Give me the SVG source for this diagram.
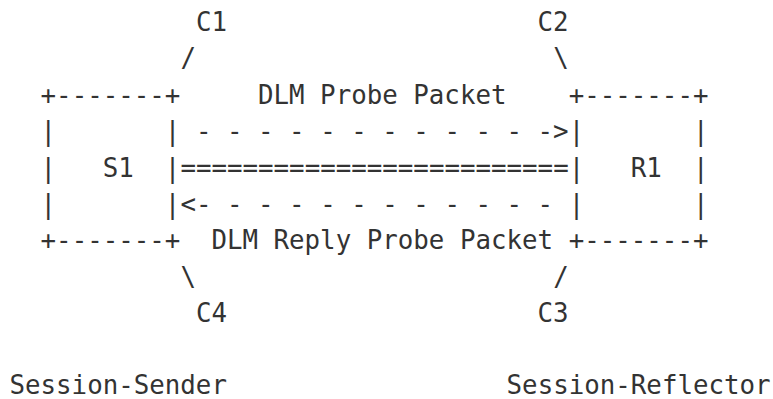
<svg xmlns="http://www.w3.org/2000/svg" width="773" height="399" viewBox="0 0 773 399">
<style>
text{font-family:"DejaVu Sans Mono","Liberation Mono",monospace;font-size:25.8px;fill:#333;white-space:pre}
</style>
<rect width="773" height="399" fill="#fff"/>
<g id="S1" xml:space="preserve">
<text x="40.6" y="103.8">+-------+</text>
<text x="40.6" y="140.2">|       |</text>
<text x="40.6" y="176.6">|   S1  |</text>
<text x="40.6" y="213">|       |</text>
<text x="40.6" y="249.4">+-------+</text>
</g>
<g id="R1" xml:space="preserve">
<text x="568.7" y="103.8">+-------+</text>
<text x="568.7" y="140.2">|       |</text>
<text x="568.7" y="176.6">|   R1  |</text>
<text x="568.7" y="213">|       |</text>
<text x="568.7" y="249.4">+-------+</text>
</g>
<g id="connectors" xml:space="preserve">
<text x="180.4" y="67.4">/</text>
<text x="553.2" y="67.4">\</text>
<text x="195.9" y="140.2">- - - - - - - - - - - -&gt;</text>
<text x="180.4" y="176.6">=========================</text>
<text x="180.4" y="213">&lt;- - - - - - - - - - - -</text>
<text x="180.4" y="285.8">\</text>
<text x="553.2" y="285.8">/</text>
</g>
<g id="labels" xml:space="preserve">
<text x="195.9" y="31">C1</text>
<text x="537.6" y="31">C2</text>
<text x="258" y="103.8">DLM Probe Packet</text>
<text x="211.4" y="249.4">DLM Reply Probe Packet</text>
<text x="195.9" y="322.2">C4</text>
<text x="537.6" y="322.2">C3</text>
<text x="9.5" y="394">Session-Sender</text>
<text x="506.6" y="394">Session-Reflector</text>
</g>
</svg>
